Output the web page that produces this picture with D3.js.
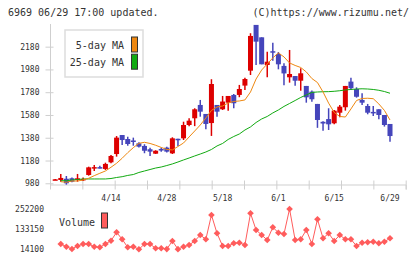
<!DOCTYPE html>
<html lang="en">
<head>
    <meta charset="UTF-8">
    <title>6969 chart</title>
    <style>
        body { margin: 0; background: #fff; }
        svg text { font-family: "DejaVu Sans Mono", monospace; fill: #333; }
    </style>
    <script src="https://cdn.jsdelivr.net/npm/d3@7"></script>
</head>
<body>
<script>
// trading days, 2022
var dates = ["3/31","4/1","4/4","4/5","4/6","4/7","4/8","4/11","4/12","4/13","4/14","4/15",
    "4/18","4/19","4/20","4/21","4/22","4/25","4/26","4/27","4/28","5/2","5/6",
    "5/9","5/10","5/11","5/12","5/13","5/16","5/17","5/18","5/19","5/20",
    "5/23","5/24","5/25","5/26","5/27","5/30","5/31","6/1","6/2","6/3",
    "6/6","6/7","6/8","6/9","6/10","6/13","6/14","6/15","6/16","6/17",
    "6/20","6/21","6/22","6/23","6/24","6/27","6/28","6/29"];

var open  = [1012,1009,1020,1024,1009,1012,1053,1117,1122,1106,1164,1237,1404,1369,1356,1331,1308,1279,1240,1281,1293,
    1243,1371,1375,1492,1551,1668,1589,1509,1668,1630,1688,1756,1756,1838,1969,2371,2262,2019,2140,2116,
    2011,1911,1922,1881,1835,1785,1677,1520,1544,1507,1600,1648,1873,1808,1712,1659,1607,1630,1580,1501];
var high  = [1018,1062,1044,1030,1062,1030,1126,1141,1135,1161,1229,1395,1404,1389,1381,1340,1323,1293,1270,1293,1302,
    1384,1372,1521,1551,1639,1712,1589,1894,1668,1747,1747,1765,1844,1908,2298,2371,2262,2136,2215,2133,
    2034,2151,1922,1990,1835,1794,1677,1525,1639,1624,1668,1835,1908,1823,1771,1677,1659,1630,1580,1501];
var low   = [1010,994,968,990,994,1000,1047,1088,1110,1097,1156,1214,1316,1310,1310,1295,1244,1220,1238,1258,1250,
    1237,1308,1360,1482,1482,1565,1454,1396,1565,1624,1618,1639,1736,1800,1931,2019,2025,1911,2057,1981,
    1840,1864,1837,1793,1688,1697,1467,1442,1448,1498,1560,1618,1800,1732,1668,1586,1571,1542,1478,1344];
var close = [1015,1027,980,994,1024,1018,1120,1122,1118,1150,1220,1381,1360,1325,1352,1302,1266,1258,1266,1277,1258,
    1375,1367,1492,1530,1630,1609,1501,1852,1609,1698,1747,1683,1808,1896,2274,2224,2025,2048,2130,2025,
    1945,1940,1881,1946,1735,1718,1536,1505,1498,1618,1653,1835,1815,1740,1688,1600,1601,1580,1492,1395];

var ma5  = [null,994,989,1000,1000,1009,1024,1047,1068,1088,1121,1156,1200,1249,1293,1331,1340,1330,1314,1295,1277,
    1273,1303,1334,1387,1439,1492,1554,1620,1650,1659,1685,1699,1703,1712,1782,1896,1975,2028,2081,2125,
    2090,2037,2015,1997,1958,1900,1865,1782,1684,1602,1567,1562,1633,1707,1725,1727,1723,1677,1620,1536];
var ma25 = [null,1003,1003,1009,1013,1018,1018,1018,1018,1018,1022,1031,1038,1049,1057,1075,1088,1101,1114,1123,1136,
    1150,1167,1185,1202,1220,1237,1255,1277,1308,1330,1365,1391,1413,1448,1475,1514,1545,1567,1598,1624,
    1655,1681,1707,1734,1756,1778,1782,1784,1785,1788,1793,1800,1804,1808,1810,1808,1804,1797,1786,1771];

var volume = [null,45400,29500,16000,33600,45400,45400,29500,25900,45400,64900,114500,73200,25900,29500,14100,45400,45400,20000,20000,15500,
    63100,15000,29500,39500,63100,98600,73200,216700,108600,33600,33600,49500,53100,39500,226800,128100,98600,69000,144100,112200,
    104500,252200,69000,73200,128100,45400,191300,79100,108600,63100,98600,73200,73200,33600,53100,55500,59000,49500,59000,79100];

var priceTicks = [980,1180,1380,1580,1780,1980,2180];
var dateLabels = ["4/14","4/28","5/18","6/1","6/15","6/29"];
var volumeTicks = [14100,133150,252200];

var width = 420, height = 259;
var upColor = "#dd0000", downColor = "#4545bb";
var ma5Color = "#ee8811", ma25Color = "#11aa11", volColor = "#ff5c5c";
var axisColor = "#cfcfcf";

var svg = d3.select("body").append("svg")
    .attr("width", width)
    .attr("height", height);

var x = d3.scalePoint().domain(dates).range([55.2, 390]);
var y = d3.scaleLinear().domain([965, 2379]).range([185, 24]);
var yVol = d3.scaleLinear().domain([14100, 252200]).range([249.3, 209]);
var xGrid = d3.scaleLinear().domain([0, 11]).range([50, 405.7]);

// header
svg.append("text").attr("x", 8).attr("y", 16).style("font-size", "10px")
    .text("6969 06/29 17:00 updated.");
svg.append("text").attr("x", 409).attr("y", 16).style("font-size", "10px")
    .style("text-anchor", "end")
    .text("(C)https://www.rizumu.net/");

// y axis
var yAxis = svg.append("g")
    .attr("transform", "translate(50.5,0)")
    .call(d3.axisLeft(y).tickValues(priceTicks).tickFormat(d3.format("d")).tickSize(5).tickPadding(6));
yAxis.select(".domain").remove();
yAxis.selectAll(".tick line").attr("x1", 3).attr("stroke", axisColor);
yAxis.selectAll(".tick text").style("font-size", "8px").attr("fill", "#333");
svg.append("line").attr("x1", 50.5).attr("x2", 50.5).attr("y1", 24).attr("y2", 185)
    .attr("stroke", axisColor);

// x axis with plain ticks
var xAxis = svg.append("g")
    .attr("transform", "translate(0,184.5)")
    .call(d3.axisBottom(xGrid).tickValues(d3.range(1, 12)).tickSize(5).tickFormat(""));
xAxis.select(".domain").attr("stroke", axisColor);
xAxis.selectAll(".tick line").attr("y1", -4).attr("stroke", axisColor);

svg.append("g").selectAll("text")
    .data(dateLabels)
    .join("text")
    .attr("x", d => x(d))
    .attr("y", 201)
    .style("font-size", "8px")
    .style("text-anchor", "middle")
    .text(d => d);

// candles
var candles = svg.append("g").selectAll("g")
    .data(dates.map((d, i) => ({date: d, o: open[i], h: high[i], l: low[i], c: close[i]})))
    .join("g");

candles.append("line")
    .attr("x1", d => x(d.date)).attr("x2", d => x(d.date))
    .attr("y1", d => y(d.h)).attr("y2", d => y(d.l))
    .attr("stroke", d => d.c >= d.o ? upColor : downColor)
    .attr("stroke-width", 1.5);

candles.append("rect")
    .attr("x", d => x(d.date) - 2.5)
    .attr("width", 5)
    .attr("y", d => y(Math.max(d.o, d.c)))
    .attr("height", d => Math.max(1.5, Math.abs(y(d.o) - y(d.c))))
    .attr("fill", d => d.c >= d.o ? upColor : downColor);

// moving averages
var line = d3.line()
    .defined(d => d[1] != null)
    .x(d => x(d[0]))
    .y(d => y(d[1]));

svg.append("path")
    .attr("d", line(dates.map((d, i) => [d, ma25[i]])))
    .attr("fill", "none").attr("stroke", ma25Color).attr("stroke-width", 1);
svg.append("path")
    .attr("d", line(dates.map((d, i) => [d, ma5[i]])))
    .attr("fill", "none").attr("stroke", ma5Color).attr("stroke-width", 1);

// legend
var legend = svg.append("g");
legend.append("rect").attr("x", 65).attr("y", 30).attr("width", 78).attr("height", 47)
    .attr("fill", "#fff").attr("stroke", "#dddddd").attr("stroke-width", 1.5);
[["5-day MA", ma5Color], ["25-day MA", ma25Color]].forEach(function(item, i) {
    legend.append("text").attr("x", 124).attr("y", 48.5 + i * 17.2)
        .style("font-size", "10px").style("text-anchor", "end").text(item[0]);
    legend.append("rect").attr("x", 131.5).attr("y", 37 + i * 17.2)
        .attr("width", 6).attr("height", 15)
        .attr("fill", item[1]).attr("stroke", "#333").attr("stroke-width", 1);
});

// volume
var volPoints = dates.map((d, i) => [d, volume[i]]).filter(d => d[1] != null);
svg.append("path")
    .attr("d", d3.line().x(d => x(d[0])).y(d => yVol(d[1]))(volPoints))
    .attr("fill", "none").attr("stroke", volColor).attr("stroke-width", 1);
svg.append("g").selectAll("path")
    .data(volPoints)
    .join("path")
    .attr("d", d3.symbol(d3.symbolSquare, 22))
    .attr("transform", d => "translate(" + x(d[0]) + "," + yVol(d[1]) + ") rotate(45)")
    .attr("fill", volColor);

svg.append("g").selectAll("text")
    .data(volumeTicks)
    .join("text")
    .attr("x", 44)
    .attr("y", d => yVol(d))
    .attr("dy", "0.35em")
    .style("font-size", "8px")
    .style("text-anchor", "end")
    .text(d => d);

svg.append("text").attr("x", 59).attr("y", 225.5).style("font-size", "10px").text("Volume");
svg.append("rect").attr("x", 101.5).attr("y", 213).attr("width", 6).attr("height", 15)
    .attr("fill", volColor).attr("stroke", "#333").attr("stroke-width", 1);
</script>
</body>
</html>
